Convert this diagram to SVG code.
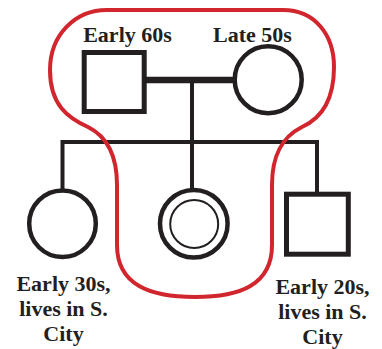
<svg xmlns="http://www.w3.org/2000/svg" width="382" height="349" viewBox="0 0 382 349">
<style>
.sym{fill:#fff;stroke:#231f20;stroke-width:4.5}
.ln{stroke:#231f20;stroke-width:4;fill:none}
.lbl{font-family:"Liberation Serif","Times New Roman",serif;font-weight:bold;font-size:22px;fill:#231f20;text-anchor:middle}
.hl{fill:none;stroke:#d1262e;stroke-width:4}
</style>
<rect width="382" height="349" fill="#fff"/>
<g id="connectors">
<line class="ln" x1="144" y1="80" x2="236" y2="80" style="stroke-width:6.5"/>
<line class="ln" x1="192" y1="80" x2="192" y2="190"/>
<polyline class="ln" points="62.5,190 62.5,142 317,142 317,195" style="stroke-linejoin:miter"/>
</g>
<g id="father">
<rect class="sym" x="84.2" y="52.5" width="60" height="59" style="stroke-width:5"/>
<text class="lbl" x="127.5" y="42">Early 60s</text>
</g>
<g id="mother">
<circle class="sym" cx="268.2" cy="79.7" r="33.5"/>
<text class="lbl" x="252.5" y="42">Late 50s</text>
</g>
<g id="sister">
<circle class="sym" cx="62.5" cy="223.7" r="33.3"/>
<text class="lbl" x="63.5" y="291">Early 30s,</text>
<text class="lbl" x="63.5" y="316">lives in S.</text>
<text class="lbl" x="63.5" y="341">City</text>
</g>
<g id="proband">
<circle class="sym" cx="193.8" cy="223.7" r="33.8"/>
<circle cx="194.2" cy="224" r="24" fill="none" stroke="#231f20" stroke-width="2"/>
</g>
<g id="brother">
<rect class="sym" x="286.5" y="194.2" width="61.8" height="60" style="stroke-width:5"/>
<text class="lbl" x="322.5" y="294">Early 20s,</text>
<text class="lbl" x="322.5" y="319">lives in S.</text>
<text class="lbl" x="322.5" y="344">City</text>
</g>
<g id="household">
<path class="hl" d="M107,10 L283,10 C315,10 334,35 334,67 C334,100 322,118 302,127 C282,137 272,155 272,185 L272,245 C272,285 240,297 195,297 C150,297 117,285 117,245 L117,185 C117,155 106,136 88,127 C68,118 50,105 50,70 C50,35 75,10 107,10 Z"/>
</g>
</svg>
